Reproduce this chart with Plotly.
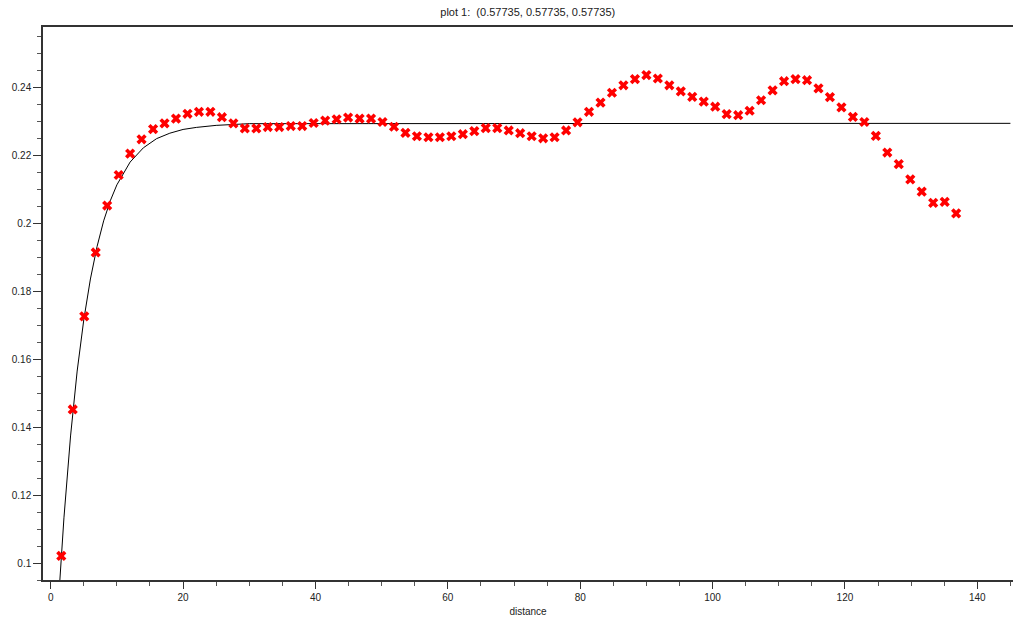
import plotly.graph_objects as go

# Experimental points (lag distance, value)
distance = [1.60, 3.33, 5.07, 6.80, 8.53, 10.27, 12.00, 13.73, 15.47, 17.20,
            18.93, 20.67, 22.40, 24.13, 25.87, 27.60, 29.33, 31.07, 32.80, 34.53,
            36.27, 38.00, 39.73, 41.47, 43.20, 44.93, 46.67, 48.40, 50.13, 51.87,
            53.60, 55.33, 57.07, 58.80, 60.53, 62.27, 64.00, 65.73, 67.47, 69.20,
            70.93, 72.67, 74.40, 76.13, 77.87, 79.60, 81.33, 83.07, 84.80, 86.53,
            88.27, 90.00, 91.73, 93.47, 95.20, 96.93, 98.67, 100.40, 102.13, 103.87,
            105.60, 107.33, 109.07, 110.80, 112.53, 114.27, 116.00, 117.73, 119.47, 121.20,
            122.93, 124.67, 126.40, 128.13, 129.87, 131.60, 133.33, 135.07, 136.80]
values = [0.1021, 0.1452, 0.1726, 0.1914, 0.2052, 0.2142, 0.2205, 0.2247, 0.2277, 0.2294,
          0.2308, 0.2322, 0.2328, 0.2328, 0.2312, 0.2294, 0.2279, 0.2279, 0.2283, 0.2283,
          0.2286, 0.2286, 0.2295, 0.2302, 0.2306, 0.2311, 0.2308, 0.2308, 0.2298, 0.2284,
          0.2266, 0.2256, 0.2253, 0.2253, 0.2256, 0.2262, 0.2271, 0.2280, 0.2280, 0.2273,
          0.2265, 0.2256, 0.2250, 0.2253, 0.2273, 0.2297, 0.2328, 0.2355, 0.2384, 0.2406,
          0.2424, 0.2436, 0.2426, 0.2406, 0.2388, 0.2372, 0.2358, 0.2343, 0.2321, 0.2318,
          0.2331, 0.2362, 0.2391, 0.2418, 0.2424, 0.2421, 0.2397, 0.2371, 0.2341, 0.2313,
          0.2298, 0.2257, 0.2208, 0.2174, 0.2129, 0.2093, 0.2060, 0.2063, 0.2029]

# Fitted model curve
model_x = [1.2, 2, 3, 4, 5, 6, 7, 8, 9, 10, 12, 14, 16, 18, 20, 22, 25, 30, 145]
model_y = [0.0895, 0.1133, 0.1374, 0.1565, 0.1716, 0.1836, 0.1931, 0.2007, 0.2066, 0.2113,
           0.2180, 0.2222, 0.2249, 0.2265, 0.2276, 0.2282, 0.2288, 0.2293, 0.2294]

title_text = "plot 1:  (0.57735, 0.57735, 0.57735)"
x_title = "distance"

fig = go.Figure()
fig.add_trace(go.Scatter(x=model_x, y=model_y, mode="lines",
                         line=dict(color="black", width=1), showlegend=False,
                         hoverinfo="skip"))
fig.add_trace(go.Scatter(x=distance, y=values, mode="markers",
                         marker=dict(symbol="x", size=9, color="#ff0000",
                                     line=dict(width=0)),
                         showlegend=False))

font = "Liberation Sans, Arial, sans-serif"
fig.update_layout(
    width=1013, height=622,
    margin=dict(l=43, r=0, t=27, b=42),
    paper_bgcolor="white", plot_bgcolor="white",
    font=dict(family=font, size=11, color="#222"),
    title=dict(text=title_text, x=0.521, xanchor="center", y=0.981,
               yanchor="middle", yref="container",
               font=dict(size=11, color="#222")),
    xaxis=dict(range=[-1.163, 145.39], dtick=20, tick0=0,
               showgrid=False, zeroline=False,
               showline=True, linecolor="#333", linewidth=1.5, mirror=True,
               ticks="outside", ticklen=7, tickwidth=1, tickcolor="#333",
               minor=dict(dtick=5, ticks="outside", ticklen=4, tickcolor="#555",
                          showgrid=False),
               title=dict(text=x_title, font=dict(size=10), standoff=6),
               tickfont=dict(size=10)),
    yaxis=dict(range=[0.09501, 0.25775], dtick=0.02, tick0=0,
               showgrid=False, zeroline=False,
               showline=True, linecolor="#333", linewidth=1.5,
               ticks="outside", ticklen=8, tickwidth=1, tickcolor="#333",
               minor=dict(dtick=0.005, ticks="outside", ticklen=4, tickcolor="#555",
                          showgrid=False),
               tickfont=dict(size=10)),
)

fig.write_html("out.html")
